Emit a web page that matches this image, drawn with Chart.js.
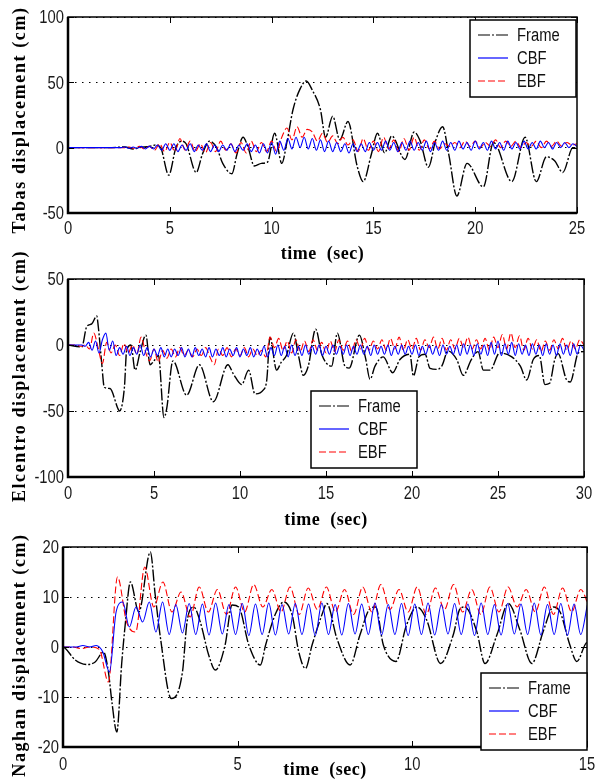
<!DOCTYPE html>
<html><head><meta charset="utf-8">
<script src="https://cdn.jsdelivr.net/npm/chart.js@4/dist/chart.umd.min.js"></script>
<style>
html,body{margin:0;padding:0;background:#fff;width:598px;height:780px;overflow:hidden}
canvas{display:block;position:absolute;left:0;top:0}
</style></head><body>
<canvas id="c1" width="598" height="780"></canvas>
<canvas id="c2" width="598" height="780"></canvas>
<canvas id="c3" width="598" height="780"></canvas>
<script>
// ---------------- DATA ----------------
const seriesNames = ["Frame", "CBF", "EBF"];

// Tabas
const tabasFrameT = [0,1,2,2.8,3.2,3.5,4.0,4.3,4.55,4.95,5.3,5.6,5.8,6.3,6.6,6.95,7.3,7.6,8.05,8.3,8.6,8.85,9.15,9.5,9.8,10.15,10.5,10.75,11.05,11.4,11.7,12.0,12.4,12.65,13.0,13.35,13.75,14.2,14.5,14.9,15.2,15.55,15.9,16.55,17.0,17.3,17.7,18.05,18.4,18.7,19.1,19.6,20.4,20.9,21.8,22.45,23.0,23.5,23.9,24.3,24.8,25];
const tabasFrameV = [0,0,0,0.5,-1,0,1,2,0,-21,0,5,3,-19,-5,5,0,-12,-20,-5,8,0,-14,-12,-11,11,-12,4,29,45,51,44,29,8,24,6,20,-14,-26,-5,11,-4,9,-9,12,5,-15,5,16,-5,-37,-12,-30,4,-26,8,-26,-7,-10,-19,0,0];
const tabasCbfStep = 0.2;
const tabasCbfV = [
 0,0,0,0,0,0,0,0,0,0,
 0,0,0,0,0.5,-0.5,0.5,-0.5,1,-1,
 1,-1,2,-2,3,-2,3,-3,2,-2,
 3,-3,2,-2,3,-3,2,-3,2,-2,
 3,-3,2,-2,3,-3,2,-4,3,-4,
 4,-5,5,-2,7,-1,8,0,8,-1,
 7,-2,6,-3,5,-3,4,-3,3,-4,
 3,-3,3,-3,4,-2,4,-2,5,-2,
 4,-3,4,-2,5,-2,4,-2,5,-3,
 4,-2,5,-2,4,-2,5,-1,4,-2,
 5,-1,4,-2,5,-1,4,-2,5,-1,
 4,-1,5,-1,4,-1,5,0,4,-1,
 4,0,4,0,3,1];
const tabasEbfStep = 0.25;
const tabasEbfV = [
 0,0,0,0,0,0,0,0,
 0,0,0,0,0.5,-0.5,1,-1,
 1,-2,3,-3,4,-3,7,-2,
 5,-3,3,-4,4,-3,5,-2,
 3,-4,4,-4,5,-3,4,-3,
 5,-3,8,15,6,16,8,14,
 12,5,11,4,9,3,8,2,
 6,-3,7,-2,5,-3,8,-1,
 6,-3,7,-2,8,-2,6,-1,
 5,-1,3,1,4,0,5,1,
 5,0,4,1,6,0,5,1,
 5,0,4,1,5,0,5,1,
 5,1,4,2,3];

// Elcentro
const elcFrameT = [0,0.8,1.09,1.38,1.67,1.76,1.96,2.11,2.44,2.93,3.0,3.28,3.41,3.66,3.9,4.2,4.53,4.77,5.0,5.26,5.58,5.74,6.1,6.9,7.64,8.45,9.3,9.62,10.1,10.5,10.87,11.36,11.56,11.74,12.13,12.4,12.7,13.1,13.4,13.68,13.97,14.4,14.75,15.33,15.66,16.1,16.35,16.94,17.3,17.56,17.85,18.33,18.88,19.3,19.88,20.08,20.4,20.76,21.05,21.44,21.73,22.1,22.6,22.98,23.45,23.84,24.15,24.54,25.1,25.8,26.3,26.67,27.05,27.4,27.73,28.0,28.3,28.49,28.99,29.2,29.67,29.96,30];
const elcFrameV = [0,-1.5,14,16,22,14,-14,-32,-33,-49,-50,-32,-4,0,-19,-5,7.5,-15,-12,-8,-55,-48,-12,-38,-15,-43,-15,-22,-30,-19,-37,-34,-26,6,-19,-13,-8,9,-8,-23,-16,12,-7,-16,9,-16,-17.5,7.5,-10,-26,-16,-9,-21,-11,-7,-23.5,-9,-7,-17.7,-18.5,-16,-4.5,-11,-23,-11,-5,-19,-19,-6,-9,-16,-26.5,-11,-8,-30,-29,-11,-6.5,-26.5,-28,-6,-5,-5];
const elcCbfStep = 0.2;
const elcCbfV = [
 0,0,0,0,0,-1,2,-4,3,-6,
 4,9,-4,3,-8,-2,-7,-1,-8,-2,
 -7,0,-8,-2,-9,-3,-8,-2,-9,-3,
 -9,-3,-8,-2,-9,-3,-9,-2,-8,-3,
 -9,-2,-9,-3,-8,-2,-9,-3,-8,-2,
 -9,-3,-8,-2,-9,-3,-8,-1,-9,-2,
 -8,0,-8,-1,-9,0,-8,-1,-8,0,
 -7,-1,-7,0,-8,-1,-7,0,-7,-1,
 -7,0,-8,-1,-7,0,-7,-1,-8,0,
 -7,-1,-7,0,-8,-1,-7,0,-7,-1,
 -7,0,-8,-1,-7,0,-7,-1,-8,0,
 -7,-1,-7,0,-8,1,-7,0,-8,1,
 -7,0,-8,2,-7,3,-8,1,-7,2,
 -8,1,-7,0,-8,1,-7,0,-8,1,
 -7,0,-8,1,-7,0,-8,1,-7,0,
 -4];
const elcEbfStep = 0.25;
const elcEbfV = [
 0,0,0,-1,0,-3,9,-2,
 -14,2,-6,0,-8,1,-6,0,
 -7,6,-5,-12,-3,-13,-4,-10,
 -3,-9,-2,-8,-4,-9,-3,-8,
 -2,-9,-15,-3,-8,-2,-9,-3,
 -8,-2,-9,-3,-8,-4,-9,6,
 -2,5,-4,3,-6,4,-5,3,
 -5,4,-4,2,-6,3,-5,4,
 -4,3,-5,4,-3,5,-4,3,
 -3,4,-4,5,-3,6,-4,4,
 -3,5,-4,4,-2,6,-3,5,
 -4,4,-3,5,-2,6,-3,4,
 -3,5,-4,6,-2,8,-3,9,
 -2,7,-4,5,-3,4,-5,3,
 -4,4,-3,5,-4,3,-3,4,
 0];

// Naghan
const nagFrameT = [0,0.07,0.35,0.69,0.92,1.16,1.3,1.4,1.54,1.68,1.78,1.93,2.17,2.5,2.64,2.79,3.1,3.42,3.55,3.74,3.93,4.17,4.36,4.64,4.84,5.03,5.32,5.65,5.8,6.08,6.32,6.56,6.75,6.94,7.13,7.42,7.55,7.84,8.22,8.5,8.79,8.95,9.17,9.53,9.83,10.13,10.41,10.81,11.17,11.37,11.5,11.84,12.08,12.42,12.75,13.08,13.42,13.75,14.04,14.23,14.51,14.71,14.94,15];
const nagFrameV = [0,-0.3,-2.6,-3.5,-3,-1,-5,-11,-17,-3.3,4.4,13,7,19,10.4,1.8,-10.3,-5,5,8,5,-1.6,-4.6,0.4,8.4,8,0.4,-3.6,0.4,6.6,9,6.4,-1,-4.3,0.4,6.6,8.7,1.7,-3.6,2.4,7.7,8,0.4,-2.9,4.3,8,5.4,-3.3,2.4,7.7,8,3.2,-3.3,2.4,8.7,3.4,-3.3,3.2,8,7,0.4,-2.9,0.4,1];
const nagCbfStep = 0.19;
const nagCbfV = [
 0,0,0,0.3,0,0.3,-1,-5,7,9,4,8,5,9,3,9,
 2.5,8.5,2.8,8.7,2.5,8.6,2.4,8.8,2.6,8.5,2.5,8.7,2.3,8.6,2.5,8.8,
 2.4,8.5,2.6,8.7,2.5,8.6,2.3,8.8,2.5,8.5,2.4,8.7,2.6,8.6,2.5,8.8,
 2.4,8.5,2.5,8.7,2.3,8.6,2.5,8.8,2.4,8.5,2.6,8.7,2.5,8.6,2.3,8.8,
 2.5,8.5,2.4,8.7,2.6,8.6,2.5,8.8,2.4,8.5,2.5,8.7,2.3,8.6,2.5,8.4];
const nagEbfStep = 0.26;
const nagEbfV = [
 0,0,-0.3,0,-0.5,-7,14,5,3,16,8,13,7,11,6,12,7,11.5,6.5,12,
 7,12.5,8,11.5,7,12,6.5,11.8,7.5,12,7,11.5,6.5,12,7,12.5,7.5,11.5,7,12,
 6.5,11.8,7.5,12.5,7,11.5,6.5,12,7,12,8,11.5,7,12,6.5,11.8,7,11.5,7.5];

// ---------------- STYLE ----------------
const COLORS = {Frame:'#000000', CBF:'#0000ff', EBF:'#ff0000'};
const DASH = {Frame:[12,2,2,2], CBF:[], EBF:[7,3]};
const WIDTH = {Frame:1.4, CBF:1.1, EBF:1.1};
const SANS = "18px 'Liberation Sans',Arial,sans-serif";
const NARROW = 0.82;
const TITLE_FONT = "bold 18px 'Liberation Serif','Times New Roman',serif";

const pairs = (ts, vs) => ts.map((t,i)=>({x:t, y:vs[i]}));
const stepped = (dt, vs) => vs.map((v,i)=>({x:Math.round(i*dt*1000)/1000, y:v}));

function ds(name, data, order){
  return {label:name, data, borderColor:COLORS[name], borderWidth:WIDTH[name], borderDash:DASH[name],
    pointRadius:0, fill:false, cubicInterpolationMode:'monotone', order};
}

function narrowText(ctx, txt, x, y, align){
  ctx.save();
  ctx.translate(x, y);
  ctx.scale(NARROW, 1);
  ctx.textAlign = align;
  ctx.fillText(txt, 0, 0);
  ctx.restore();
}

const decor = {
  id:'decor',
  afterDatasetsDraw(chart, args, o){
    const {ctx, chartArea:a, scales} = chart;
    ctx.save();
    ctx.setLineDash([]);
    ctx.strokeStyle='#000';
    // inward ticks
    ctx.lineWidth=1;
    const tl=6;
    ctx.beginPath();
    scales.x.ticks.forEach(t=>{const x=Math.round(scales.x.getPixelForValue(t.value))+0.5;
      ctx.moveTo(x,a.bottom); ctx.lineTo(x,a.bottom-tl); ctx.moveTo(x,a.top); ctx.lineTo(x,a.top+tl);});
    scales.y.ticks.forEach(t=>{const y=Math.round(scales.y.getPixelForValue(t.value))+0.5;
      ctx.moveTo(a.left,y); ctx.lineTo(a.left+tl,y); ctx.moveTo(a.right,y); ctx.lineTo(a.right-tl,y);});
    ctx.stroke();
    // frame
    ctx.lineWidth=1.5;
    ctx.strokeRect(a.left, a.top, a.right-a.left, a.bottom-a.top);
    ctx.lineWidth=2.5;
    ctx.beginPath(); ctx.moveTo(a.left,a.top); ctx.lineTo(a.left,a.bottom); ctx.lineTo(a.right,a.bottom); ctx.stroke();
    // tick labels (from the library's scales)
    ctx.fillStyle='#1a1a1a';
    ctx.font = SANS;
    ctx.textBaseline='alphabetic';
    scales.x.ticks.forEach(t=>{
      narrowText(ctx, t.label, scales.x.getPixelForValue(t.value), a.bottom + o.xLabelDy + 6.4, 'center');
    });
    scales.y.ticks.forEach(t=>{
      narrowText(ctx, t.label, a.left - 4, scales.y.getPixelForValue(t.value) + 6.4, 'right');
    });
    // legend box
    const L=o.legend;
    ctx.fillStyle='#fff';
    ctx.fillRect(L.x, L.y, 106, 77);
    ctx.lineWidth=1.5;
    ctx.strokeRect(L.x, L.y, 106, 77);
    seriesNames.forEach((n,i)=>{
      const yy = L.y + 15 + i*23;
      ctx.strokeStyle=COLORS[n]; ctx.lineWidth=1.2; ctx.setLineDash(DASH[n]);
      ctx.beginPath(); ctx.moveTo(L.x+8,yy); ctx.lineTo(L.x+38,yy); ctx.stroke();
      ctx.setLineDash([]);
      ctx.fillStyle='#111'; ctx.font = SANS; ctx.textBaseline='alphabetic';
      narrowText(ctx, n, L.x+47, yy+6.4, 'left');
    });
    // axis titles
    ctx.fillStyle='#000';
    ctx.font = TITLE_FONT;
    ctx.textAlign='center'; ctx.textBaseline='middle';
    try{ctx.letterSpacing='0.5px';}catch(e){}
    ctx.fillText(o.xTitle, (a.left+a.right)/2, o.xTitleY);
    try{ctx.letterSpacing='1.6px';}catch(e){}
    ctx.translate(20, o.yTitleY);
    ctx.rotate(-Math.PI/2);
    ctx.fillText(o.yTitle, 0, 0);
    ctx.restore();
  }
};

function makeChart(id, cfg){
  const c = document.getElementById(id);
  return new Chart(c, {
    type:'line',
    data:{datasets:[
      ds('Frame', cfg.frame, 3),
      ds('CBF', cfg.cbf, 1),
      ds('EBF', cfg.ebf, 2)
    ]},
    options:{
      responsive:false, animation:false, events:[],
      layout:{padding:{left:0, top:cfg.area.top, right:c.width-cfg.area.right, bottom:0}},
      scales:{
        x:{type:'linear', min:0, max:cfg.xmax,
           ticks:{display:false, stepSize:5, maxRotation:0, autoSkip:false},
           grid:{display:false, drawTicks:false}, border:{display:false},
           afterFit:s=>{s.height = c.height - cfg.area.bottom;}},
        y:{type:'linear', min:cfg.ymin, max:cfg.ymax,
           ticks:{display:false, stepSize:cfg.ystep},
           grid:{display:true, drawTicks:false, color:'#000', lineWidth:1},
           border:{display:false, dash:[1.5,5.5]},
           afterFit:s=>{s.width = cfg.area.left;}}
      },
      plugins:{legend:{display:false}, tooltip:{enabled:false},
        decor:{legend:cfg.legend, xTitle:'time  (sec)', xTitleY:cfg.xTitleY, xLabelDy:cfg.xLabelDy,
               yTitle:cfg.yTitle, yTitleY:cfg.yTitleY}}
    },
    plugins:[decor]
  });
}

makeChart('c1', {
  frame:pairs(tabasFrameT, tabasFrameV), cbf:stepped(tabasCbfStep, tabasCbfV), ebf:stepped(tabasEbfStep, tabasEbfV),
  area:{left:68, top:17, right:577, bottom:213}, xmax:25, ymin:-50, ymax:100, ystep:50, xLabelDy:15,
  legend:{x:470, y:20}, xTitleY:254, yTitle:'Tabas displacement (cm)', yTitleY:120
});
makeChart('c2', {
  frame:pairs(elcFrameT, elcFrameV), cbf:stepped(elcCbfStep, elcCbfV), ebf:stepped(elcEbfStep, elcEbfV),
  area:{left:68, top:279, right:584, bottom:477}, xmax:30, ymin:-100, ymax:50, ystep:50, xLabelDy:16,
  legend:{x:311, y:391}, xTitleY:520, yTitle:'Elcentro displacement (cm)', yTitleY:376
});
makeChart('c3', {
  frame:pairs(nagFrameT, nagFrameV), cbf:stepped(nagCbfStep, nagCbfV), ebf:stepped(nagEbfStep, nagEbfV),
  area:{left:63, top:547, right:587, bottom:747}, xmax:15, ymin:-20, ymax:20, ystep:10, xLabelDy:17,
  legend:{x:481, y:673}, xTitleY:770, yTitle:'Naghan displacement (cm)', yTitleY:655
});
</script>
</body></html>
